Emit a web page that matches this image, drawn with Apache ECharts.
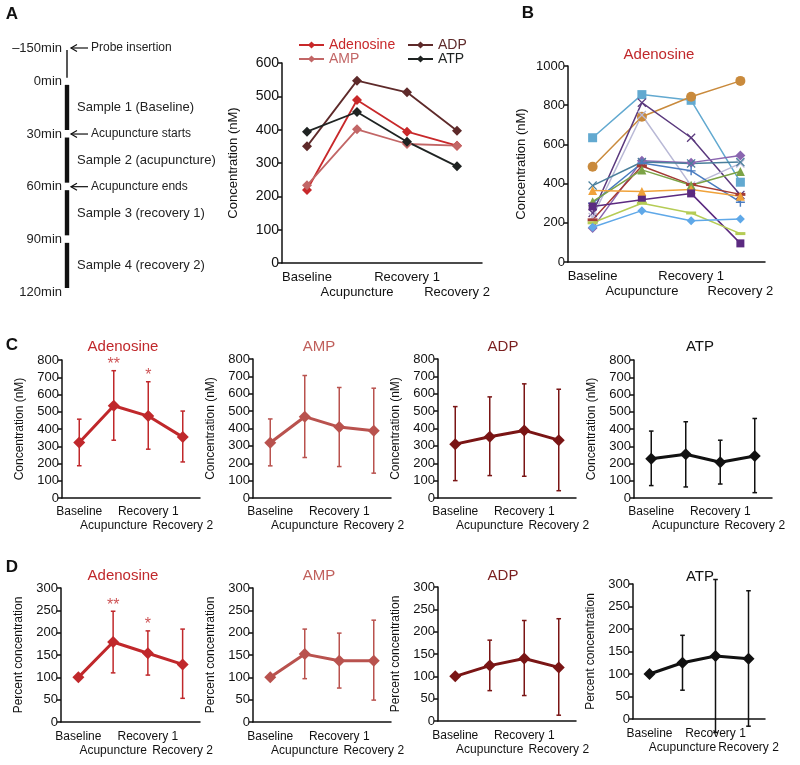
<!DOCTYPE html>
<html><head><meta charset="utf-8">
<script src="https://cdn.jsdelivr.net/npm/echarts@6/dist/echarts.min.js"></script>
<style>html,body{margin:0;padding:0;background:#fff}#c{width:800px;height:765px}</style>
</head><body><div id="c"></div>
<script>
const FONT = '"Liberation Sans", Arial, Helvetica, sans-serif';
const categories = ['Baseline', 'Acupuncture', 'Recovery 1', 'Recovery 2'];

// ---- Panel A: timeline ----
const timeTicks = [-150, 0, 30, 60, 90, 120];
const timeTickLabels = ['–150min', '0min', '30min', '60min', '90min', '120min'];
const probeStart = -150, probeEnd = 0;
const sampleStarts = [0, 30, 60, 90];
const sampleEnds = [30, 60, 90, 120];
const sampleLabels = ['Sample 1 (Baseline)', 'Sample 2 (acupuncture)', 'Sample 3 (recovery 1)', 'Sample 4 (recovery 2)'];
const eventTimes = [-150, 30, 60];
const eventLabels = ['Probe insertion', 'Acupuncture starts', 'Acupuncture ends'];

// ---- Panel A: means (nM) ----
const aAdenosine = [219, 489, 394, 352];
const aAMP = [233, 401, 357, 352];
const aADP = [350, 547, 512, 397];
const aATP = [394, 453, 364, 290];

// ---- Panel B: individual adenosine (nM) ----
const bSubj1 = [634, 854, 825, 407];
const bSubj2 = [486, 741, 843, 924];
const bSubj3 = [250, 813, 634, 342];
const bSubj4 = [230, 750, 390, 503];
const bSubj5 = [173, 517, 507, 543];
const bSubj6 = [390, 510, 503, 510];
const bSubj7 = [300, 505, 465, 305];
const bSubj8 = [215, 490, 395, 345];
const bSubj9 = [308, 470, 392, 462];
const bSubj10 = [365, 360, 370, 335];
const bSubj11 = [283, 318, 350, 95];
const bSubj12 = [200, 300, 250, 145];
const bSubj13 = [177, 262, 210, 220];

// ---- Panel C: concentration mean and error bar ends (nM) ----
const cAdenosineMean = [322, 535, 475, 353];
const cAdenosineLow = [187, 335, 283, 209];
const cAdenosineHigh = [457, 738, 674, 504];
const cAMPMean = [318, 468, 408, 387];
const cAMPLow = [185, 233, 181, 143];
const cAMPHigh = [455, 705, 636, 632];
const cADPMean = [310, 353, 389, 333];
const cADPLow = [100, 129, 125, 42];
const cADPHigh = [526, 582, 657, 626];
const cATPMean = [227, 254, 207, 244];
const cATPLow = [72, 64, 81, 31];
const cATPHigh = [388, 442, 335, 461];
const cAdenosineSig = ['', '**', '*', ''];

// ---- Panel D: percent concentration ----
const dAdenosineMean = [100, 179, 154, 129];
const dAdenosineLow = [null, 110, 105, 53];
const dAdenosineHigh = [null, 248, 204, 208];
const dAMPMean = [100, 152, 137, 137];
const dAMPLow = [null, 97, 76, 49];
const dAMPHigh = [null, 208, 199, 228];
const dADPMean = [100, 124, 140, 120];
const dADPLow = [null, 68, 57, 13];
const dADPHigh = [null, 181, 225, 229];
const dATPMean = [100, 125, 140, 134];
const dATPLow = [null, 64, -30, -16];
const dATPHigh = [null, 186, 310, 285];
const dAdenosineSig = ['', '**', '*', ''];

const cTicks = [0, 800, 100];
const dTicks = [0, 300, 50];

// ---- styles ----
const COL = { ado: '#c0282b', amp: '#b9524e', adp: '#7a1515', atp: '#111111' };
const TITLECOL = { ado: '#c0282b', amp: '#c0605c', adp: '#7a1f1f', atp: '#111111' };
const ACOL = { ado: '#c8282a', amp: '#c26666', adp: '#5e2a2a', atp: '#1f2322' };
const SYM_X = 'path://M1,0L5,4L9,0L10,1L6,5L10,9L9,10L5,6L1,10L0,9L4,5L0,1Z';
const SYM_PLUS = 'path://M4.2,0H5.8V4.2H10V5.8H5.8V10H4.2V5.8H0V4.2H4.2Z';

const grids = [], xAxes = [], yAxes = [], series = [];
function addGrid(g, xa, ya) {
  grids.push(g); const gi = grids.length - 1;
  xa.gridIndex = gi; ya.gridIndex = gi; xAxes.push(xa); yAxes.push(ya); return gi;
}
function catAxis(fontSize, lineH, margin, centered) {
  return {
    type: 'category', data: categories, boundaryGap: true,
    axisLine: { lineStyle: { color: '#111', width: 1.5 } },
    axisTick: { alignWithLabel: centered, interval: 0, length: 4, lineStyle: { color: '#111', width: 1.5 } },
    axisLabel: { interval: 0, margin, fontSize, lineHeight: lineH, color: '#111', fontFamily: FONT,
      formatter: (v, i) => (i % 2 ? '\n' + v : v) }
  };
}
function valAxis(min, max, interval, name, fontSize, nameFont, nameGap) {
  return {
    type: 'value', min, max, interval, name, nameLocation: 'middle', nameGap, nameRotate: 90,
    nameTextStyle: { fontSize: nameFont, color: '#111', fontFamily: FONT },
    splitLine: { show: false },
    axisLine: { show: true, lineStyle: { color: '#111', width: 1.5 } },
    axisTick: { show: true, length: 4, lineStyle: { color: '#111', width: 1.5 } },
    axisLabel: { fontSize, color: '#111', margin: 3, fontFamily: FONT, formatter: v => String(v) }
  };
}

// ---- Timeline grid ----
function tpos(t) { return t < 0 ? t * 0.1267 : t; }
const gT = addGrid({ left: 67, top: 48, width: 100, height: 244 },
  { type: 'value', min: 0, max: 1, show: false },
  { type: 'value', min: tpos(-150), max: 120, inverse: true, show: false });
const txt = (text, x, y, align, size) => ({ type: 'text', style: { text, x, y, fill: '#222', font: size + 'px ' + FONT,
  textAlign: align, textVerticalAlign: 'middle', align: align, verticalAlign: 'middle' } });
series.push({
  type: 'custom', xAxisIndex: gT, yAxisIndex: gT, silent: true,
  data: [[0, tpos(probeStart), tpos(probeEnd)]],
  renderItem: (p, api) => {
    const a = api.coord([0, api.value(1)]), b = api.coord([0, api.value(2)]);
    return { type: 'line', shape: { x1: a[0], y1: a[1] + 2, x2: b[0], y2: b[1] - 3.5 }, style: { stroke: '#111', lineWidth: 1.4 } };
  }
});
series.push({
  type: 'custom', xAxisIndex: gT, yAxisIndex: gT, silent: true,
  data: sampleStarts.map((s, i) => [0, tpos(s), tpos(sampleEnds[i])]),
  renderItem: (p, api) => {
    const a = api.coord([0, api.value(1)]), b = api.coord([0, api.value(2)]);
    return { type: 'group', children: [
      { type: 'rect', shape: { x: a[0] - 2.2, y: a[1] + 3.5, width: 4.4, height: b[1] - a[1] - 7.5 }, style: { fill: '#111' } },
      txt(sampleLabels[p.dataIndex], a[0] + 10, (a[1] + b[1]) / 2, 'left', 13)
    ] };
  }
});
series.push({
  type: 'custom', xAxisIndex: gT, yAxisIndex: gT, silent: true,
  data: timeTicks.map(t => [0, tpos(t)]),
  renderItem: (p, api) => {
    const a = api.coord([0, api.value(1)]);
    return txt(timeTickLabels[p.dataIndex], a[0] - 5, a[1], 'right', 13);
  }
});
series.push({
  type: 'custom', xAxisIndex: gT, yAxisIndex: gT, silent: true,
  data: eventTimes.map(t => [0, tpos(t)]),
  renderItem: (p, api) => {
    const a = api.coord([0, api.value(1)]);
    const x0 = a[0] + 4, y = a[1];
    return { type: 'group', children: [
      { type: 'line', shape: { x1: x0, y1: y, x2: x0 + 17, y2: y }, style: { stroke: '#111', lineWidth: 1.2 } },
      { type: 'polyline', shape: { points: [[x0 + 6, y - 3.5], [x0, y], [x0 + 6, y + 3.5]] }, style: { stroke: '#111', lineWidth: 1.2, fill: null } },
      txt(eventLabels[p.dataIndex], x0 + 20, y, 'left', 12)
    ] };
  }
});

// ---- Panel A chart ----
const gA = addGrid({ left: 282, top: 63, width: 200, height: 200 },
  catAxis(13, 15, 6.5, true), valAxis(0, 600, 100, 'Concentration (nM)', 14, 13, 42));
[['Adenosine', aAdenosine, ACOL.ado], ['AMP', aAMP, ACOL.amp], ['ADP', aADP, ACOL.adp], ['ATP', aATP, ACOL.atp]].forEach(([n, d, c]) => {
  series.push({ type: 'line', name: n, xAxisIndex: gA, yAxisIndex: gA, data: d, symbol: 'diamond', symbolSize: 10,
    lineStyle: { width: 1.8, color: c }, itemStyle: { color: c } });
});

// ---- Panel B ----
const gB = addGrid({ left: 568, top: 66, width: 197, height: 196 },
  catAxis(13, 15, 6.5, true), valAxis(0, 1000, 200, 'Concentration (nM)', 13, 13, 40));
const bList = [
  [bSubj1, '#62a9d0', 'rect', 9], [bSubj2, '#c98a3c', 'circle', 10], [bSubj3, '#5b3a7e', SYM_X, 9],
  [bSubj4, '#b9b9d6', SYM_X, 9], [bSubj5, '#8a66b0', 'diamond', 10], [bSubj6, '#4a7f9b', SYM_X, 9],
  [bSubj7, '#4a7cc0', SYM_PLUS, 9], [bSubj8, '#a33a35', 'rect', [10, 3]], [bSubj9, '#7ca346', 'triangle', 9],
  [bSubj10, '#f0a23a', 'triangle', 9], [bSubj11, '#5b2a80', 'rect', 8], [bSubj12, '#b5cc55', 'rect', [10, 3]],
  [bSubj13, '#5fa8e8', 'diamond', 9]
];
bList.forEach(([d, c, s, sz], i) => {
  series.push({ type: 'line', name: 'subject ' + (i + 1), xAxisIndex: gB, yAxisIndex: gB, data: d, symbol: s, symbolSize: sz,
    lineStyle: { width: 1.5, color: c }, itemStyle: { color: c } });
});

// ---- Panels C and D ----
function errSeries(gi, low, high, color) {
  return {
    type: 'custom', xAxisIndex: gi, yAxisIndex: gi, silent: true, z: 1,
    data: low.map((l, i) => (l == null ? null : [i, l, high[i]])).filter(Boolean),
    renderItem: (p, api) => {
      const lo = api.coord([api.value(0), api.value(1)]), hi = api.coord([api.value(0), api.value(2)]);
      const hw = 2.3, st = { stroke: color, lineWidth: 1.5 };
      return { type: 'group', children: [
        { type: 'line', shape: { x1: lo[0], y1: lo[1], x2: hi[0], y2: hi[1] }, style: st },
        { type: 'line', shape: { x1: lo[0] - hw, y1: lo[1], x2: lo[0] + hw, y2: lo[1] }, style: st },
        { type: 'line', shape: { x1: hi[0] - hw, y1: hi[1], x2: hi[0] + hw, y2: hi[1] }, style: st }
      ] };
    }
  };
}
function smallPanel(grid, ticks, yName, mean, low, high, color, name, sig) {
  const gi = addGrid(grid, catAxis(12, 14, grid.top > 500 ? 8 : 7, false),
    valAxis(ticks[0], ticks[1], ticks[2], yName, 13, 12, 36));
  series.push(errSeries(gi, low, high, color));
  series.push({ type: 'line', name, xAxisIndex: gi, yAxisIndex: gi, data: mean, symbol: 'diamond', symbolSize: 12, z: 3,
    lineStyle: { width: 3, color }, itemStyle: { color } });
  if (sig) {
    series.push({ type: 'scatter', xAxisIndex: gi, yAxisIndex: gi, symbolSize: 0, silent: true, z: 4,
      data: sig.map((s, i) => (s ? { value: [i, high[i]], label: { formatter: s } } : null)).filter(Boolean),
      label: { show: true, position: 'top', distance: -2, fontSize: 16, color, fontFamily: FONT } });
  }
}
smallPanel({ left: 62, top: 360, width: 138, height: 138 }, cTicks, 'Concentration (nM)', cAdenosineMean, cAdenosineLow, cAdenosineHigh, COL.ado, 'C Adenosine', cAdenosineSig);
smallPanel({ left: 253, top: 359, width: 138, height: 139 }, cTicks, 'Concentration (nM)', cAMPMean, cAMPLow, cAMPHigh, COL.amp, 'C AMP');
smallPanel({ left: 438, top: 359, width: 138, height: 139 }, cTicks, 'Concentration (nM)', cADPMean, cADPLow, cADPHigh, COL.adp, 'C ADP');
smallPanel({ left: 634, top: 360, width: 138, height: 138 }, cTicks, 'Concentration (nM)', cATPMean, cATPLow, cATPHigh, COL.atp, 'C ATP');
smallPanel({ left: 61, top: 588, width: 139, height: 134 }, dTicks, 'Percent concentration', dAdenosineMean, dAdenosineLow, dAdenosineHigh, COL.ado, 'D Adenosine', dAdenosineSig);
smallPanel({ left: 253, top: 588, width: 138, height: 134 }, dTicks, 'Percent concentration', dAMPMean, dAMPLow, dAMPHigh, COL.amp, 'D AMP');
smallPanel({ left: 438, top: 587, width: 138, height: 134 }, dTicks, 'Percent concentration', dADPMean, dADPLow, dADPHigh, COL.adp, 'D ADP');
smallPanel({ left: 633, top: 584, width: 132, height: 135 }, dTicks, 'Percent concentration', dATPMean, dATPLow, dATPHigh, COL.atp, 'D ATP');

// ---- texts ----
function gtext(text, x, y, color, size, bold) {
  return { type: 'text', x, y, style: { text, fill: color, font: (bold ? 'bold ' : '') + size + 'px ' + FONT,
    textAlign: 'center', textVerticalAlign: 'middle', align: 'center', verticalAlign: 'middle' } };
}
const graphics = [
  gtext('A', 12, 14, '#111', 17, true), gtext('B', 528, 13, '#111', 17, true),
  gtext('C', 12, 345, '#111', 17, true), gtext('D', 12, 567, '#111', 17, true),
  gtext('Adenosine', 659, 55, TITLECOL.ado, 15),
  gtext('Adenosine', 123, 347, TITLECOL.ado, 15), gtext('AMP', 319, 347, TITLECOL.amp, 15),
  gtext('ADP', 503, 347, TITLECOL.adp, 15), gtext('ATP', 700, 347, TITLECOL.atp, 15),
  gtext('Adenosine', 123, 576, TITLECOL.ado, 15), gtext('AMP', 319, 576, TITLECOL.amp, 15),
  gtext('ADP', 503, 576, TITLECOL.adp, 15), gtext('ATP', 700, 577, TITLECOL.atp, 15)
];

const legendBase = { orient: 'vertical', itemGap: 0, itemWidth: 25, itemHeight: 9, padding: 0, selectedMode: false,
  textStyle: { fontSize: 14, fontFamily: FONT, lineHeight: 13 } };
const chart = echarts.init(document.getElementById('c'), null, { renderer: 'canvas' });
chart.setOption({
  animation: false,
  backgroundColor: '#fff',
  textStyle: { fontFamily: FONT },
  grid: grids, xAxis: xAxes, yAxis: yAxes, series,
  legend: [
    Object.assign({}, legendBase, { left: 298, top: 38, data: [
      { name: 'Adenosine', textStyle: { color: ACOL.ado } }, { name: 'AMP', textStyle: { color: ACOL.amp } }] }),
    Object.assign({}, legendBase, { left: 407, top: 38, data: [
      { name: 'ADP', textStyle: { color: ACOL.adp } }, { name: 'ATP', textStyle: { color: ACOL.atp } }] })
  ],
  graphic: graphics
});
</script></body></html>
